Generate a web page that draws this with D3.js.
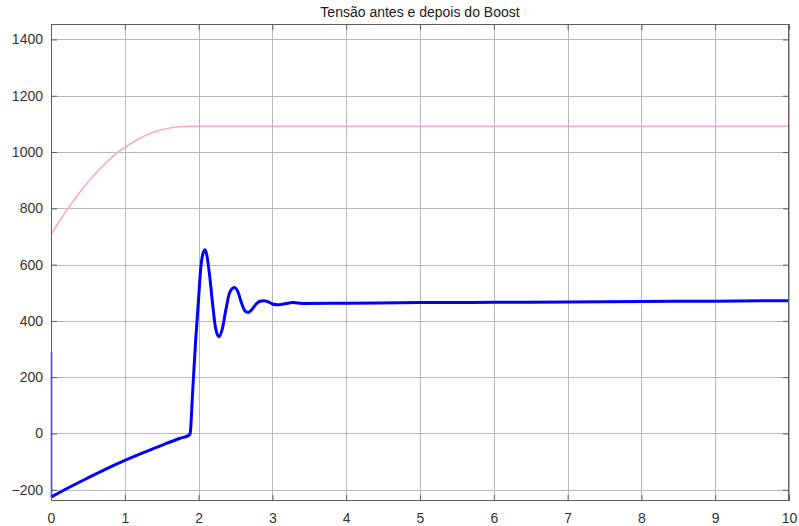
<!DOCTYPE html>
<html>
<head>
<meta charset="utf-8">
<script src="https://cdn.jsdelivr.net/npm/d3@7"></script>
<style>
  html, body { margin: 0; padding: 0; background: #ffffff; }
  svg { display: block; font-family: "Liberation Sans", Arial, Helvetica, sans-serif; }
</style>
</head>
<body>
<svg id="chart" width="799" height="526"></svg>
<script>
// Voltage before the boost converter (input) – pink trace
const inputTime = [0, 0.1, 0.2, 0.3, 0.4, 0.5, 0.6, 0.7, 0.8, 0.9, 1.0, 1.1, 1.2, 1.3, 1.4, 1.5, 1.6, 1.7, 1.8, 1.9, 2.0, 3, 4, 5, 6, 7, 8, 9, 10];
const inputVolts = [705, 748, 788, 825, 860, 893, 922, 950, 975, 998, 1016, 1033, 1048, 1061, 1071, 1079, 1085, 1089, 1091, 1092, 1092, 1092, 1092, 1092, 1092, 1092, 1092, 1092, 1092];

// Voltage after the boost converter (output) – blue trace
const outputTime = [0, 0.25, 0.5, 0.75, 1.0, 1.25, 1.5, 1.75, 1.87, 1.885, 1.92, 1.96, 2.0, 2.03, 2.06, 2.087, 2.11, 2.15, 2.19, 2.23, 2.276, 2.32, 2.37, 2.42, 2.484, 2.53, 2.58, 2.63, 2.674, 2.72, 2.78, 2.83, 2.886, 2.94, 3.0, 3.07, 3.15, 3.28, 3.4, 4, 5, 6, 7, 8, 9, 10];
const outputVolts = [-226, -191, -158, -126, -96, -68, -42, -17, -6, 0, 150, 330, 480, 590, 640, 653, 635, 560, 460, 375, 344, 370, 440, 500, 519, 505, 465, 435, 430, 440, 460, 470, 472, 468, 460, 457, 460, 465, 462, 463, 465, 466, 467, 469, 470, 472];

// Initial transient at t = 0 on the output
const spikeTime = [0, 0];
const spikeVolts = [-226, 290];

const xTicks = [0, 1, 2, 3, 4, 5, 6, 7, 8, 9, 10];
const yTicks = [-200, 0, 200, 400, 600, 800, 1000, 1200, 1400];
const titleText = "Tensão antes e depois do Boost";

const svg = d3.select("#chart");
const margin = { left: 51, right: 10, top: 24, bottom: 25 };
const W = 799, H = 526;
const x0 = margin.left, x1 = W - margin.right;
const y0 = H - margin.bottom, y1 = margin.top;

const x = d3.scaleLinear().domain([0, 10]).range([x0, x1]);
const y = d3.scaleLinear().domain([-240, 1455]).range([y0, y1]);

// grid
const grid = svg.append("g");
grid.selectAll("line.gx").data(xTicks).join("line")
  .attr("x1", d => Math.round(x(d)) + 0.5).attr("x2", d => Math.round(x(d)) + 0.5)
  .attr("y1", y1).attr("y2", y0)
  .attr("stroke", "#b8b8b8").attr("stroke-width", 1);
grid.selectAll("line.gy").data(yTicks).join("line")
  .attr("x1", x0).attr("x2", x1)
  .attr("y1", d => Math.round(y(d)) + 0.5).attr("y2", d => Math.round(y(d)) + 0.5)
  .attr("stroke", "#b8b8b8").attr("stroke-width", 1);

// traces
const lineGen = d3.line()
  .x(d => x(d[0]))
  .y(d => y(d[1]))
  .curve(d3.curveMonotoneX);

const plot = svg.append("g");
plot.append("path")
  .datum(d3.zip(inputTime, inputVolts))
  .attr("d", lineGen)
  .attr("fill", "none").attr("stroke", "#ffa3cc").attr("stroke-width", 1.5);

plot.append("path")
  .datum(d3.zip(spikeTime, spikeVolts))
  .attr("d", d3.line().x(d => x(d[0]) + 0.5).y(d => y(d[1])))
  .attr("fill", "none").attr("stroke", "#0000ff").attr("stroke-width", 1.5);

plot.append("path")
  .datum(d3.zip(outputTime, outputVolts))
  .attr("d", lineGen)
  .attr("fill", "none").attr("stroke", "#0000ff").attr("stroke-width", 3)
  .attr("stroke-linejoin", "round");

// axes (box with inward ticks on all sides)
const axisColor = "#5e5e5e";
const tickLen = 6;
svg.append("rect")
  .attr("x", x0 + 0.5).attr("y", y1 + 0.5)
  .attr("width", x1 - x0 - 1).attr("height", y0 - y1 - 1)
  .attr("fill", "none").attr("stroke", axisColor).attr("stroke-width", 1);

const xAxisB = d3.axisBottom(x).tickValues(xTicks).tickSizeInner(-tickLen).tickSizeOuter(0).tickPadding(12).tickFormat(d3.format("d"));
const gx = svg.append("g").attr("transform", `translate(0,${y0})`).call(xAxisB);
const xAxisT = d3.axisTop(x).tickValues(xTicks).tickSizeInner(-tickLen).tickSizeOuter(0).tickFormat("");
const gxt = svg.append("g").attr("transform", `translate(0,${y1})`).call(xAxisT);
const yAxisL = d3.axisLeft(y).tickValues(yTicks).tickSizeInner(-tickLen).tickSizeOuter(0).tickPadding(8).tickFormat(d3.format("d"));
const gy = svg.append("g").attr("transform", `translate(${x0},0)`).call(yAxisL);
const yAxisR = d3.axisRight(y).tickValues(yTicks).tickSizeInner(-tickLen).tickSizeOuter(0).tickFormat("");
const gyr = svg.append("g").attr("transform", `translate(${x1},0)`).call(yAxisR);

[gx, gxt, gy, gyr].forEach(g => {
  g.select(".domain").remove();
  g.selectAll(".tick line").attr("stroke", axisColor);
  g.selectAll(".tick text").attr("fill", "#333333").attr("font-size", 14)
    .attr("font-family", "'Liberation Sans', Arial, sans-serif");
});

// title
svg.append("text")
  .attr("x", (x0 + x1) / 2).attr("y", 16.5)
  .attr("text-anchor", "middle")
  .attr("font-size", 14).attr("fill", "#1a1a1a")
  .text(titleText);
</script>
</body>
</html>
